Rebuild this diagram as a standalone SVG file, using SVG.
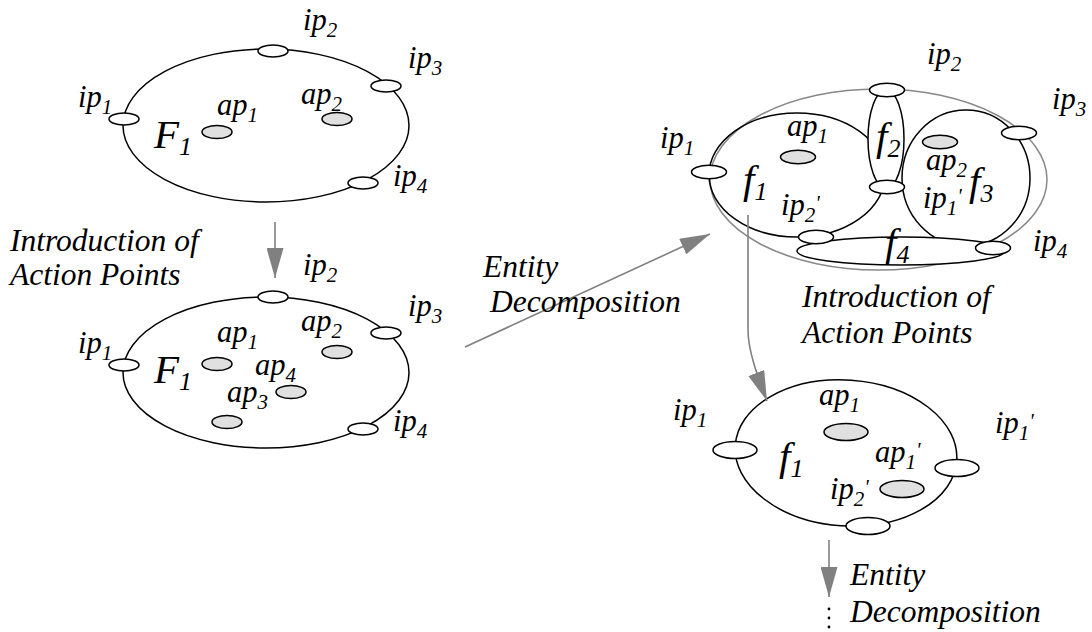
<svg xmlns="http://www.w3.org/2000/svg" width="1092" height="632" viewBox="0 0 1092 632">
<style>
.t{font-family:"Liberation Serif","Times New Roman",serif;font-style:italic;font-size:30.5px;fill:#000}
.L{font-size:31.5px}
.b{font-size:41px}
.s{font-size:21px}
.bs{font-size:26px}
.e{fill:none;stroke:#000;stroke-width:1.5}
.ew{fill:#fff;stroke:#000;stroke-width:1.5}
.ip{fill:#fff;stroke:#000;stroke-width:1.5}
.ap{fill:#e0e0e0;stroke:#000;stroke-width:1.5}
.g{fill:none;stroke:#888;stroke-width:1.5}
.c{fill:none;stroke:#808080;stroke-width:1.6}
</style>
<defs>
<marker id="ah" viewBox="0 0 30 17" markerWidth="30" markerHeight="17" refX="30" refY="8.5" orient="auto" markerUnits="userSpaceOnUse">
<path d="M0,0 L30,8.5 L0,17 z" fill="#808080"/>
</marker>
</defs>

<!-- Top-left entity -->
<g id="F1-top">
<ellipse class="e" cx="266" cy="125.5" rx="143" ry="76.5"/>
<ellipse class="ip" cx="273" cy="51" rx="15" ry="6"/>
<ellipse class="ip" cx="124" cy="119" rx="15" ry="6"/>
<ellipse class="ip" cx="386" cy="86" rx="15" ry="6"/>
<ellipse class="ip" cx="363" cy="183" rx="15" ry="6"/>
<ellipse class="ap" cx="217" cy="132" rx="15" ry="6.5"/>
<ellipse class="ap" cx="337" cy="119" rx="15" ry="6.5"/>
<text class="t" x="303" y="30">ip<tspan class="s" dy="7">2</tspan></text>
<text class="t" x="408" y="68">ip<tspan class="s" dy="7">3</tspan></text>
<text class="t" x="78" y="107">ip<tspan class="s" dy="7">1</tspan></text>
<text class="t" x="217" y="115">ap<tspan class="s" dy="7">1</tspan></text>
<text class="t" x="301" y="104">ap<tspan class="s" dy="7">2</tspan></text>
<text class="t b" x="154" y="148">F<tspan class="bs" dy="7">1</tspan></text>
<text class="t" x="393" y="186">ip<tspan class="s" dy="7">4</tspan></text>
</g>

<!-- Bottom-left entity -->
<g id="F1-bottom">
<ellipse class="e" cx="266" cy="372.5" rx="143" ry="75.5"/>
<ellipse class="ip" cx="273" cy="297" rx="15" ry="6"/>
<ellipse class="ip" cx="124" cy="365" rx="15" ry="6"/>
<ellipse class="ip" cx="386" cy="333" rx="15" ry="6"/>
<ellipse class="ip" cx="363" cy="429" rx="15" ry="6"/>
<ellipse class="ap" cx="217" cy="364" rx="15" ry="6.5"/>
<ellipse class="ap" cx="337" cy="352" rx="15" ry="6.5"/>
<ellipse class="ap" cx="291" cy="392" rx="15" ry="6.5"/>
<ellipse class="ap" cx="227" cy="422" rx="15" ry="6.5"/>
<text class="t" x="303" y="275">ip<tspan class="s" dy="7">2</tspan></text>
<text class="t" x="408" y="316">ip<tspan class="s" dy="7">3</tspan></text>
<text class="t" x="78" y="353">ip<tspan class="s" dy="7">1</tspan></text>
<text class="t" x="217" y="342">ap<tspan class="s" dy="7">1</tspan></text>
<text class="t" x="301" y="331">ap<tspan class="s" dy="7">2</tspan></text>
<text class="t" x="255" y="375">ap<tspan class="s" dy="7">4</tspan></text>
<text class="t" x="227" y="402">ap<tspan class="s" dy="7">3</tspan></text>
<text class="t b" x="154" y="383">F<tspan class="bs" dy="7">1</tspan></text>
<text class="t" x="393" y="431">ip<tspan class="s" dy="7">4</tspan></text>
</g>

<!-- Top-right decomposition -->
<g id="decomposition">
<ellipse class="g" cx="878.5" cy="179.5" rx="168.5" ry="90.5"/>
<ellipse class="e" cx="797" cy="175" rx="88" ry="62"/>
<ellipse class="e" cx="966" cy="178" rx="64" ry="68"/>
<ellipse class="ew" cx="886" cy="139" rx="18" ry="49"/>
<ellipse class="ew" cx="901" cy="251" rx="104" ry="14"/>
<ellipse class="ip" cx="709" cy="172" rx="17.5" ry="6.7"/>
<ellipse class="ip" cx="887" cy="90" rx="17.5" ry="6.7"/>
<ellipse class="ip" cx="1019" cy="133" rx="17.5" ry="6.7"/>
<ellipse class="ip" cx="887" cy="187" rx="17.5" ry="6.7"/>
<ellipse class="ip" cx="816" cy="237" rx="17.5" ry="6.7"/>
<ellipse class="ip" cx="993" cy="248" rx="17.5" ry="6.7"/>
<ellipse class="ap" cx="798" cy="157" rx="17.5" ry="6.7"/>
<ellipse class="ap" cx="940" cy="142" rx="17.5" ry="6.7"/>
<text class="t" x="660" y="148">ip<tspan class="s" dy="7">1</tspan></text>
<text class="t" x="927" y="64">ip<tspan class="s" dy="7">2</tspan></text>
<text class="t" x="1052" y="109">ip<tspan class="s" dy="7">3</tspan></text>
<text class="t" x="787" y="136">ap<tspan class="s" dy="7">1</tspan></text>
<text class="t b" x="876" y="150">f<tspan class="bs" dy="7">2</tspan></text>
<text class="t" x="926" y="170">ap<tspan class="s" dy="7">2</tspan></text>
<text class="t b" x="969" y="195">f<tspan class="bs" dy="7">3</tspan></text>
<text class="t" x="923" y="208">ip<tspan class="s" dy="7">1</tspan><tspan class="s" dy="-12">'</tspan></text>
<text class="t b" x="743" y="193">f<tspan class="bs" dy="7">1</tspan></text>
<text class="t" x="781" y="215">ip<tspan class="s" dy="7">2</tspan><tspan class="s" dy="-12">'</tspan></text>
<text class="t b" x="885" y="256">f<tspan class="bs" dy="7">4</tspan></text>
<text class="t" x="1033" y="251">ip<tspan class="s" dy="7">4</tspan></text>
</g>

<!-- Bottom-right entity -->
<g id="f1-entity">
<ellipse class="e" cx="846" cy="453" rx="111" ry="73" transform="rotate(4 846 453)"/>
<ellipse class="ip" cx="735" cy="450" rx="22" ry="8.5"/>
<ellipse class="ip" cx="957" cy="468" rx="22" ry="8.5"/>
<ellipse class="ip" cx="868" cy="526" rx="22" ry="8.5"/>
<ellipse class="ap" cx="846" cy="432" rx="22" ry="8.5"/>
<ellipse class="ap" cx="902" cy="489" rx="22" ry="8.5"/>
<text class="t" x="673" y="420">ip<tspan class="s" dy="7">1</tspan></text>
<text class="t" x="819" y="405">ap<tspan class="s" dy="7">1</tspan></text>
<text class="t" x="995" y="433">ip<tspan class="s" dy="7">1</tspan><tspan class="s" dy="-12">'</tspan></text>
<text class="t b" x="779" y="470">f<tspan class="bs" dy="7">1</tspan></text>
<text class="t" x="875" y="462">ap<tspan class="s" dy="7">1</tspan><tspan class="s" dy="-12">'</tspan></text>
<text class="t" x="830" y="499">ip<tspan class="s" dy="7">2</tspan><tspan class="s" dy="-12">'</tspan></text>
</g>

<!-- Connectors -->
<g id="connectors">
<line class="c" x1="275" y1="222" x2="275" y2="278" marker-end="url(#ah)"/>
<line class="c" x1="465" y1="347" x2="710" y2="234" marker-end="url(#ah)"/>
<path class="c" d="M748,215 L748,330 C748,350 757,375 767,401" marker-end="url(#ah)"/>
<line class="c" x1="829" y1="540" x2="829" y2="597" marker-end="url(#ah)"/>
<circle cx="829" cy="609" r="1.4" fill="#000"/>
<circle cx="829" cy="618" r="1.4" fill="#000"/>
<circle cx="829" cy="627" r="1.4" fill="#000"/>
</g>

<!-- Step labels -->
<g id="labels">
<text class="t L" x="10" y="251">Introduction of</text>
<text class="t L" x="10" y="285">Action Points</text>
<text class="t L" x="483" y="277">Entity</text>
<text class="t L" x="490" y="312">Decomposition</text>
<text class="t L" x="802" y="307">Introduction of</text>
<text class="t L" x="802" y="343">Action Points</text>
<text class="t L" x="850" y="585">Entity</text>
<text class="t L" x="850" y="622">Decomposition</text>
</g>
</svg>
